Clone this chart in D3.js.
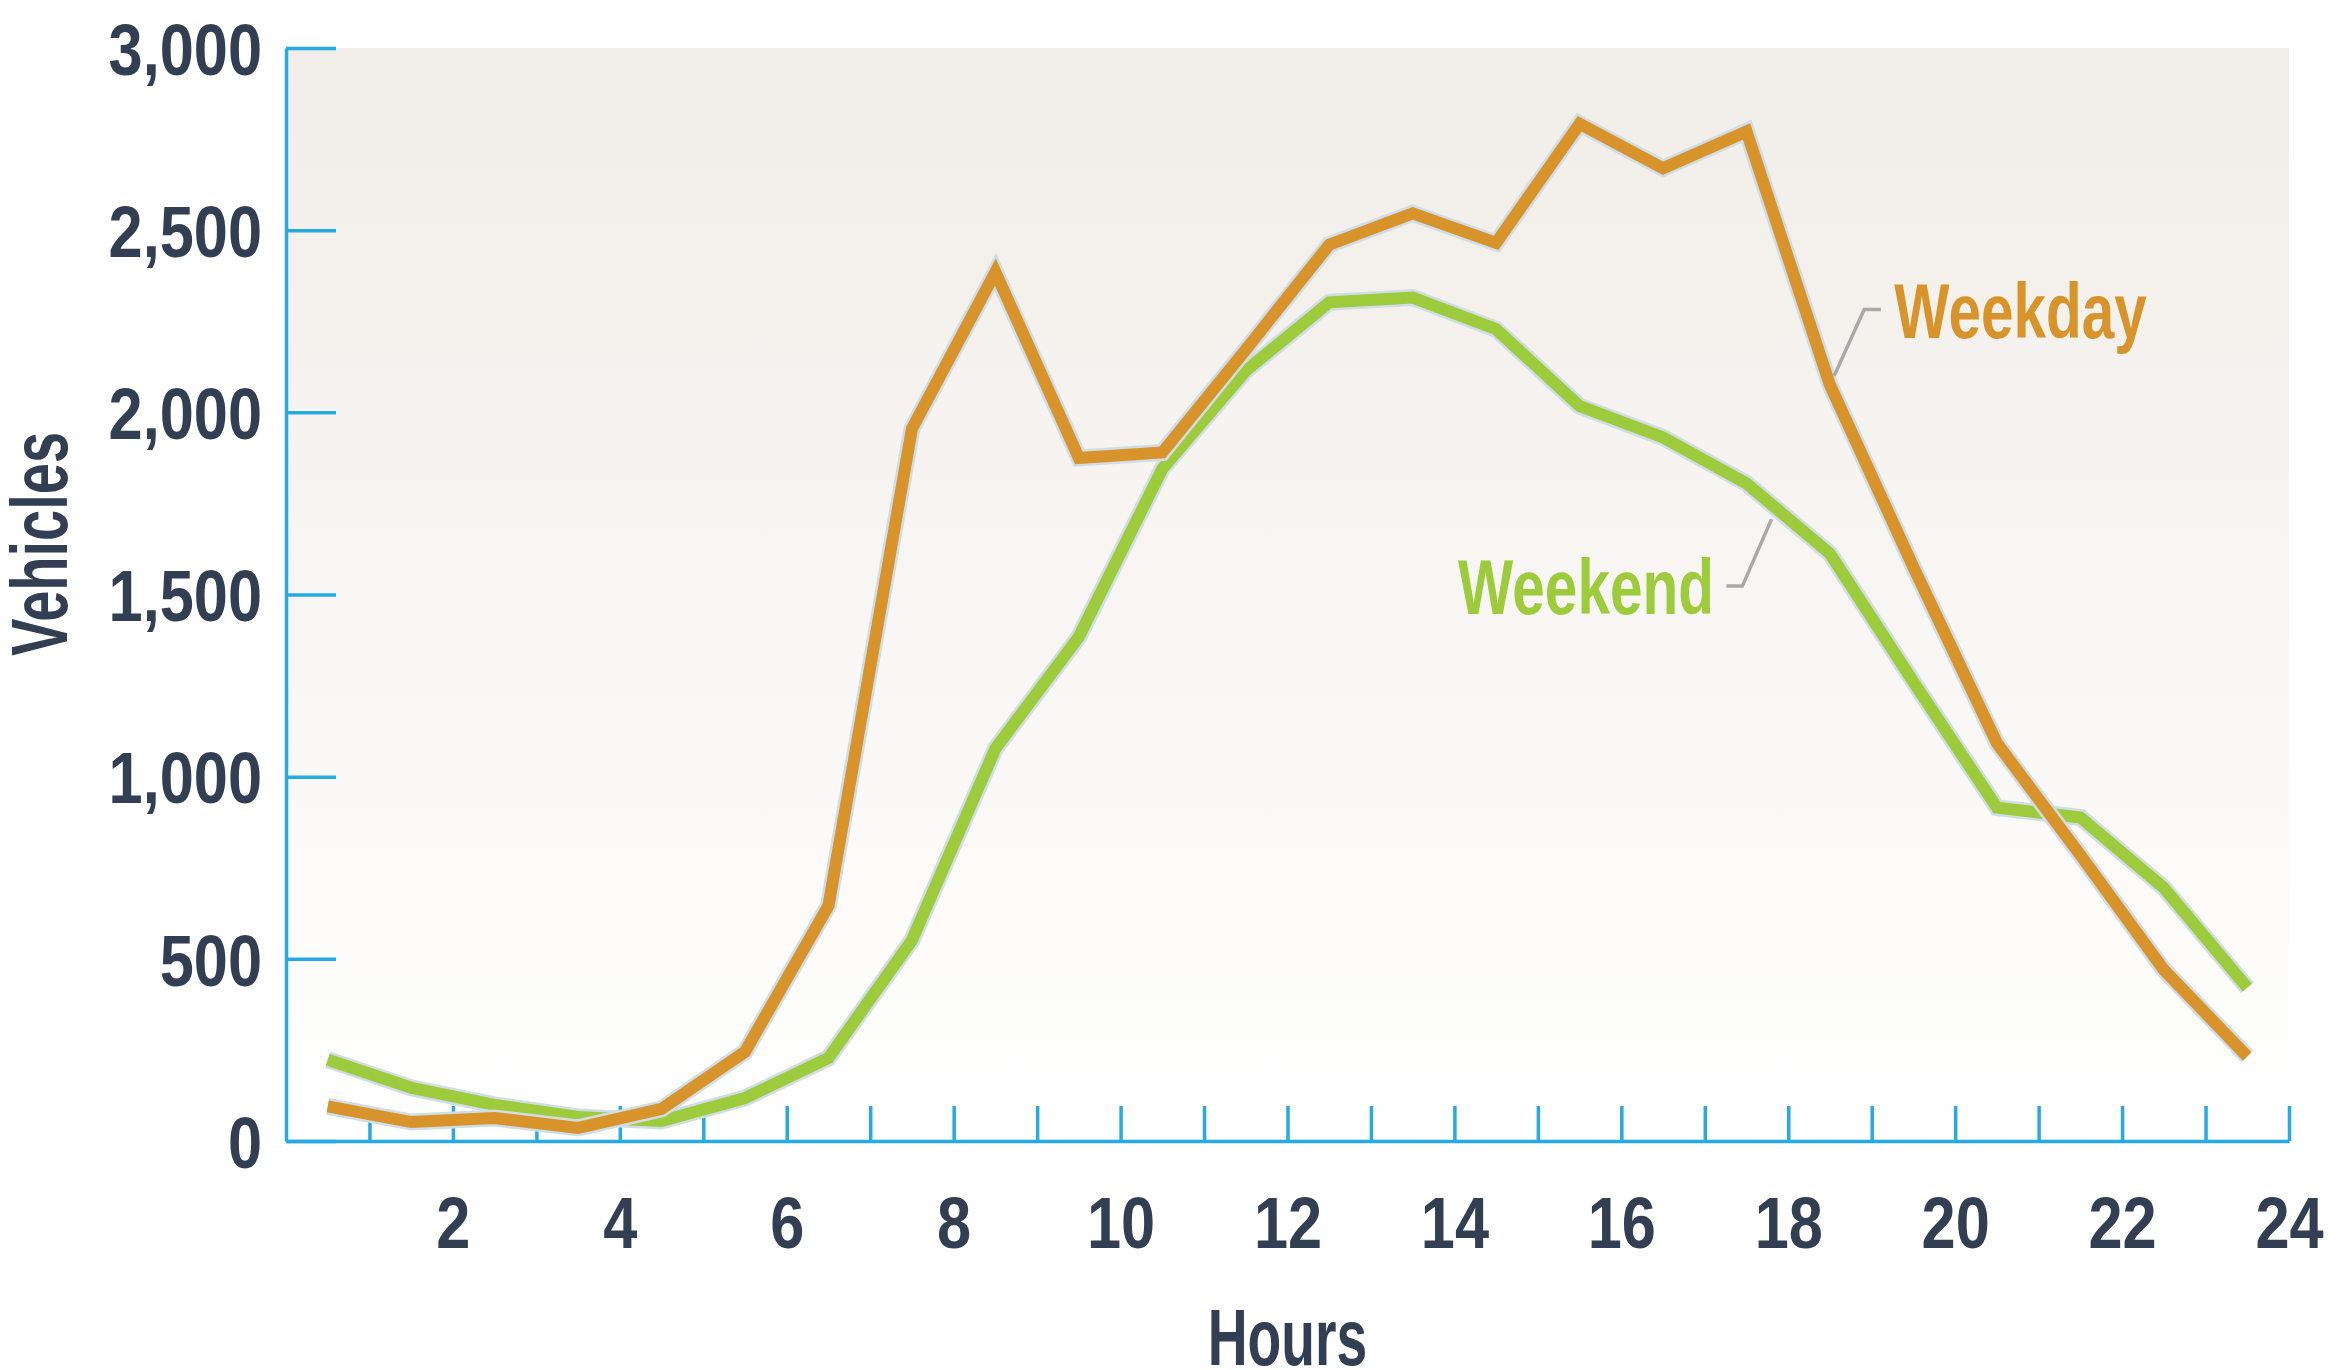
<!DOCTYPE html>
<html>
<head>
<meta charset="utf-8">
<script src="https://cdn.jsdelivr.net/npm/d3@7"></script>
<style>
  body { margin: 0; background: #fff; }
  svg { display: block; }
  text { font-family: "Liberation Sans", Arial, sans-serif; font-weight: bold; }
</style>
</head>
<body>
<svg id="chart" width="2352" height="1370" viewBox="0 0 2352 1370"></svg>
<script>
// hour of day (mid-hour points) and vehicle counts
var hours = [0.5, 1.5, 2.5, 3.5, 4.5, 5.5, 6.5, 7.5, 8.5, 9.5, 10.5, 11.5,
  12.5, 13.5, 14.5, 15.5, 16.5, 17.5, 18.5, 19.5, 20.5, 21.5, 22.5, 23.5];
var weekday = [95, 52, 63, 36, 88, 245, 646, 1955, 2385, 1875, 1890, 2172,
  2460, 2546, 2465, 2792, 2670, 2771, 2075, 1575, 1092, 785, 470, 232];
var weekend = [223, 146, 99, 66, 55, 118, 228, 551, 1077, 1384, 1845, 2114,
  2302, 2315, 2228, 2017, 1931, 1805, 1612, 1260, 915, 888, 695, 421];

var yTicks = [0, 500, 1000, 1500, 2000, 2500, 3000];
var xTicks = [1, 2, 3, 4, 5, 6, 7, 8, 9, 10, 11, 12, 13, 14, 15, 16, 17, 18, 19, 20, 21, 22, 23, 24];

var textColor = "#323e51",
  axisColor = "#27a9e1",
  weekdayColor = "#d8932a",
  weekendColor = "#9ecb3b",
  haloColor = "#cfdee6";

var svg = d3.select("#chart");

//plot box (note: "top" is reserved on window, so prefix everything)
var plotLeft = 286, plotRight = 2289, plotTop = 48, plotBottom = 1141;

var x = d3.scaleLinear().domain([0, 24]).range([plotLeft, plotRight]);
var y = d3.scaleLinear().domain([0, 3000]).range([plotBottom, plotTop]);

//the original uses a condensed face; squeeze the installed one horizontally
function condense(sel, ratio) {
  sel.each(function() {
    var w = this.getComputedTextLength();
    if (w > 0) {
      d3.select(this)
        .attr("textLength", w * ratio)
        .attr("lengthAdjust", "spacingAndGlyphs");
    }
  });
}

//soft beige-to-white background behind the plot
var grad = svg.append("defs").append("linearGradient")
  .attr("id", "bg")
  .attr("x1", 0).attr("y1", 0).attr("x2", 0).attr("y2", 1);
grad.append("stop").attr("offset", "0%").attr("stop-color", "#f1ede8");
grad.append("stop").attr("offset", "100%").attr("stop-color", "#ffffff");

svg.append("rect")
  .attr("x", plotLeft).attr("y", plotTop)
  .attr("width", plotRight - plotLeft).attr("height", plotBottom - plotTop)
  .attr("fill", "url(#bg)");

//y axis, ticks pointing into the plot
var yAxis = svg.append("g")
  .attr("transform", "translate(" + plotLeft + ",0)")
  .call(d3.axisLeft(y)
    .tickValues(yTicks)
    .tickSize(-50)
    .tickSizeOuter(0)
    .tickPadding(24)
    .tickFormat(d3.format(",")));

//x axis, every hour ticked, even hours labelled
var xAxis = svg.append("g")
  .attr("transform", "translate(0," + plotBottom + ")")
  .call(d3.axisBottom(x)
    .tickValues(xTicks)
    .tickSize(-35)
    .tickSizeOuter(0)
    .tickFormat(function(d) { return d % 2 === 0 ? d : ""; }));

[yAxis, xAxis].forEach(function(ax) {
  ax.select(".domain").attr("stroke", axisColor).attr("stroke-width", 3.5);
  ax.selectAll(".tick line").attr("stroke", axisColor).attr("stroke-width", 3.5);
  ax.selectAll(".tick text")
    .attr("fill", textColor)
    .style("font-family", null)
    .style("font-size", "73px")
    .attr("font-family", null);
});
yAxis.attr("font-family", null).attr("font-size", null);
xAxis.attr("font-family", null).attr("font-size", null);
yAxis.selectAll(".tick text").attr("dy", "0.36em");
xAxis.selectAll(".tick text").attr("y", 107).attr("dy", 0);
condense(yAxis.selectAll(".tick text"), 0.84);
condense(xAxis.selectAll(".tick text"), 0.84);

//axis titles
svg.append("text")
  .attr("x", x(12))
  .attr("y", 1365)
  .attr("text-anchor", "middle")
  .attr("fill", textColor)
  .style("font-size", "80px")
  .text("Hours")
  .call(condense, 0.69);

svg.append("text")
  .attr("transform", "translate(67,544) rotate(-90)")
  .attr("text-anchor", "middle")
  .attr("fill", textColor)
  .style("font-size", "80px")
  .text("Vehicles")
  .call(condense, 0.7);

//lines: pale halo underneath, coloured stroke on top
var line = d3.line()
  .x(function(d) { return x(d[0]); })
  .y(function(d) { return y(d[1]); });

var series = [
  { name: "Weekend", values: weekend, color: weekendColor },
  { name: "Weekday", values: weekday, color: weekdayColor }
];

series.forEach(function(s) {
  var pts = hours.map(function(h, i) { return [h, s.values[i]]; });
  svg.append("path")
    .attr("d", line(pts))
    .attr("fill", "none")
    .attr("stroke", haloColor)
    .attr("stroke-width", 17)
    .attr("stroke-linejoin", "miter")
    .attr("stroke-miterlimit", 10);
  svg.append("path")
    .attr("d", line(pts))
    .attr("fill", "none")
    .attr("stroke", s.color)
    .attr("stroke-width", 12)
    .attr("stroke-linejoin", "miter")
    .attr("stroke-miterlimit", 10);
});

//callout labels with grey leaders
var callouts = [
  { text: "Weekday", color: weekdayColor, anchor: "start",
    leader: [[18.55, 2100], [18.91, 2282], [19.11, 2282]], at: [19.27, 2205] },
  { text: "Weekend", color: weekendColor, anchor: "end",
    leader: [[17.8, 1707], [17.45, 1523], [17.26, 1523]], at: [17.11, 1446] }
];

callouts.forEach(function(c) {
  svg.append("path")
    .attr("d", line(c.leader))
    .attr("fill", "none")
    .attr("stroke", "#a9a9a9")
    .attr("stroke-width", 3.5);
  svg.append("text")
    .attr("x", x(c.at[0]))
    .attr("y", y(c.at[1]))
    .attr("text-anchor", c.anchor)
    .attr("fill", c.color)
    .style("font-size", "77px")
    .text(c.text)
    .call(condense, 0.76);
});
</script>
</body>
</html>
